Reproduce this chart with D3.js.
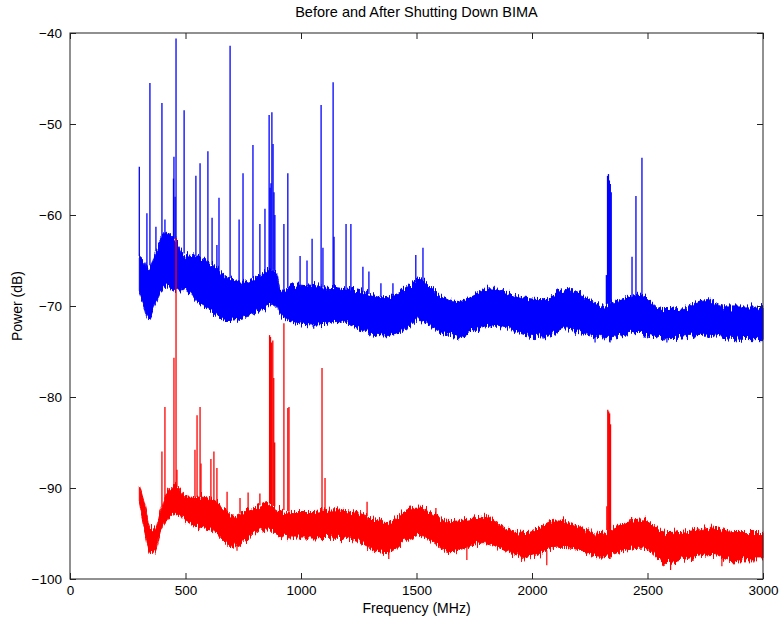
<!DOCTYPE html>
<html>
<head>
<meta charset="utf-8">
<script src="https://cdn.jsdelivr.net/npm/d3@7"></script>
<style>
  body { margin: 0; background: #fff; }
  text { font-family: "Liberation Sans", Arial, Helvetica, sans-serif; fill: #000; }
</style>
</head>
<body>
<script>
const width = 782;
const height = 621;
const margin = {top: 33, right: 19, bottom: 42, left: 70};

// "before" (blue) noise band: frequency (MHz), lower and upper edge (dB)
const blueFreq = [300, 320, 338, 375, 420, 455, 490, 550, 605, 680, 750, 822, 880, 895, 910, 982, 1070, 1155, 1270, 1355, 1430, 1515, 1600, 1675, 1745, 1820, 1890, 1960, 2050, 2150, 2238, 2310, 2380, 2468, 2567, 2653, 2757, 2844, 2957, 3000];
const blueLow  = [-68.4, -70.0, -71.5, -69.4, -67.8, -68.3, -68.2, -69.5, -70.4, -71.6, -71.3, -70.6, -69.8, -70.2, -71.1, -71.9, -72.1, -71.7, -72.7, -73.3, -72.8, -71.6, -72.9, -73.3, -72.8, -72.2, -72.4, -73.2, -73.4, -72.4, -73.2, -73.5, -73.2, -72.9, -73.5, -73.4, -73.2, -73.5, -73.7, -73.7];
const blueHigh = [-64.5, -65.0, -66.0, -63.8, -62.0, -62.7, -64.2, -64.6, -65.3, -66.8, -67.4, -66.6, -66.0, -66.5, -68.3, -67.7, -67.9, -68.0, -68.5, -69.1, -68.5, -67.1, -68.8, -69.6, -68.8, -68.0, -68.5, -69.1, -69.3, -68.2, -69.1, -69.9, -69.3, -68.8, -70.4, -70.2, -69.3, -70.1, -70.1, -70.2];

// "after" (red) noise band
const redFreq = [300, 325, 346, 368, 390, 420, 455, 506, 563, 620, 662, 706, 766, 822, 857, 896, 966, 1052, 1139, 1225, 1312, 1372, 1459, 1515, 1645, 1788, 1905, 1978, 2108, 2208, 2294, 2411, 2481, 2584, 2697, 2784, 2871, 3000];
const redLow  = [-91.6, -95.0, -97.1, -97.0, -94.9, -93.5, -92.7, -93.7, -94.3, -94.6, -95.7, -96.5, -95.7, -94.6, -94.4, -95.2, -95.5, -95.5, -95.4, -95.7, -96.8, -97.1, -95.7, -95.2, -97.0, -96.0, -97.1, -97.6, -96.5, -96.8, -97.6, -96.8, -96.6, -98.2, -97.6, -97.3, -97.9, -97.9];
const redHigh = [-89.7, -92.0, -94.3, -94.5, -92.7, -90.5, -89.7, -91.0, -91.0, -91.3, -92.1, -93.2, -92.4, -91.9, -91.6, -92.2, -92.7, -92.7, -92.4, -92.6, -93.3, -93.8, -92.4, -92.2, -93.7, -93.2, -94.6, -94.9, -93.5, -94.3, -94.9, -93.8, -93.5, -94.9, -94.6, -94.3, -94.9, -94.9];

// narrow lines: [frequency, peak dB]
const blueSpikes = [[300, -54.7], [333, -59.8], [346, -45.5], [372, -61.3], [398, -47.7], [411, -60.5], [448, -56.0], [450, -53.6], [455, -58.0], [459, -40.6], [494, -48.5], [545, -55.7], [563, -54.3], [597, -53.0], [615, -60.3], [636, -63.3], [645, -58.1], [693, -41.4], [732, -60.5], [749, -55.4], [792, -52.3], [822, -61.0], [844, -59.3], [862, -49.0], [866, -57.0], [870, -56.5], [874, -48.7], [879, -52.2], [883, -57.5], [887, -60.0], [926, -61.0], [943, -55.4], [996, -64.5], [1026, -65.0], [1048, -62.6], [1087, -47.9], [1095, -63.6], [1139, -45.4], [1143, -62.4], [1195, -61.0], [1216, -61.0], [1268, -65.7], [1294, -66.2], [1346, -67.5], [1398, -67.5], [1497, -64.4], [1528, -63.6], [2322, -66.6], [2327, -55.7], [2331, -55.5], [2335, -56.2], [2339, -56.6], [2343, -57.5], [2433, -64.6], [2450, -57.9], [2476, -53.7]];
const redSpikes = [[398, -86.0], [411, -81.1], [450, -75.7], [459, -62.5], [463, -88.0], [541, -85.8], [550, -82.0], [563, -81.1], [567, -87.3], [610, -86.8], [623, -86.0], [636, -87.8], [680, -90.4], [736, -91.1], [771, -90.5], [822, -90.6], [864, -73.2], [868, -73.4], [873, -74.0], [878, -73.8], [882, -77.9], [886, -85.0], [926, -71.9], [943, -81.2], [948, -81.1], [1091, -76.8], [1104, -88.9], [1286, -91.5], [1584, -92.2], [2324, -92.0], [2328, -81.4], [2332, -81.6], [2336, -81.8], [2340, -83.0]];

// downward excursions: [frequency, lowest dB]
const blueDips = [[1055, -72.5], [1299, -73.0], [1632, -73.3], [2048, -73.6], [2273, -74.0], [2338, -74.0], [2584, -74.0], [2957, -73.8]];
const redDips = [[723, -96.9], [1380, -97.8], [1718, -97.9], [2064, -98.5], [2338, -97.8], [2600, -99.0], [2822, -98.6], [2960, -98.2]];

const xTicks = [0, 500, 1000, 1500, 2000, 2500, 3000];
const yTicks = [-100, -90, -80, -70, -60, -50, -40];

const svg = d3.select("body")
    .append("svg")
    .attr("width", width)
    .attr("height", height);

// rough, spectrum-like edges for the noise bands (purely a drawing texture)
const defs = svg.append("defs");
const rough = defs.append("filter")
    .attr("id", "rough")
    .attr("x", "-2%").attr("y", "-40%")
    .attr("width", "104%").attr("height", "180%");
rough.append("feTurbulence")
    .attr("type", "fractalNoise")
    .attr("baseFrequency", "0.7 0.04")
    .attr("numOctaves", 2)
    .attr("seed", 3)
    .attr("result", "noise");
rough.append("feColorMatrix")
    .attr("in", "noise")
    .attr("type", "matrix")
    .attr("values", "0 0 0 0 0.5  0 1 0 0 0  0 0 0 0 0  0 0 0 0 1")
    .attr("result", "vnoise");
rough.append("feDisplacementMap")
    .attr("in", "SourceGraphic")
    .attr("in2", "vnoise")
    .attr("scale", 14)
    .attr("xChannelSelector", "R")
    .attr("yChannelSelector", "G");

const x = d3.scaleLinear()
    .domain([0, 3000])
    .range([margin.left, width - margin.right]);

const y = d3.scaleLinear()
    .domain([-100, -40])
    .range([height - margin.bottom, margin.top]);

function band(freq, low, high) {
    return freq.map((f, i) => ({f: f, lo: low[i], hi: high[i]}));
}

// band edge at any frequency, used as base of the spike lines
function edgeAt(freq, vals, f) {
    const i = Math.min(Math.max(d3.bisectLeft(freq, f), 1), freq.length - 1);
    const t = (f - freq[i - 1]) / (freq[i] - freq[i - 1]);
    return vals[i - 1] + t * (vals[i] - vals[i - 1]);
}

const area = d3.area()
    .curve(d3.curveMonotoneX)
    .x(d => x(d.f))
    .y0(d => y(d.lo))
    .y1(d => y(d.hi));

function drawSeries(color, freq, low, high, spikes, dips) {
    const g = svg.append("g");
    g.append("path")
        .datum(band(freq, low, high))
        .attr("d", area)
        .attr("fill", color)
        .attr("stroke", color)
        .attr("stroke-width", 1)
        .attr("filter", "url(#rough)");

    g.selectAll(".spike")
        .data(spikes)
        .enter()
        .append("line")
        .attr("x1", d => x(d[0]))
        .attr("x2", d => x(d[0]))
        .attr("y1", d => y(edgeAt(freq, high, d[0])))
        .attr("y2", d => y(d[1]))
        .attr("stroke", color)
        .attr("stroke-width", 1.3);

    g.selectAll(".dip")
        .data(dips)
        .enter()
        .append("line")
        .attr("x1", d => x(d[0]))
        .attr("x2", d => x(d[0]))
        .attr("y1", d => y(edgeAt(freq, low, d[0])))
        .attr("y2", d => y(d[1]))
        .attr("stroke", color)
        .attr("stroke-width", 1.2);
}

drawSeries("#0000ff", blueFreq, blueLow, blueHigh, blueSpikes, blueDips);
drawSeries("#ff0000", redFreq, redLow, redHigh, redSpikes, redDips);

// axes, MATLAB style: ticks pointing inwards on all four sides
const tickLen = 6;
const axisColor = "#222";

svg.append("g")
    .attr("transform", "translate(0," + y(-100) + ")")
    .call(d3.axisBottom(x).tickValues(xTicks).tickSize(-tickLen).tickPadding(6).tickFormat(d3.format("d")))
    .call(g => g.select(".domain").remove());

svg.append("g")
    .attr("transform", "translate(0," + y(-40) + ")")
    .call(d3.axisTop(x).tickValues(xTicks).tickSize(-tickLen).tickFormat(""))
    .call(g => g.select(".domain").remove());

svg.append("g")
    .attr("transform", "translate(" + x(0) + ",0)")
    .call(d3.axisLeft(y).tickValues(yTicks).tickSize(-tickLen).tickPadding(8).tickFormat(d3.format("d")))
    .call(g => g.select(".domain").remove());

svg.append("g")
    .attr("transform", "translate(" + x(3000) + ",0)")
    .call(d3.axisRight(y).tickValues(yTicks).tickSize(-tickLen).tickFormat(""))
    .call(g => g.select(".domain").remove());

svg.selectAll(".tick line").attr("stroke", axisColor);
svg.selectAll(".tick text").attr("font-size", "13.5px").attr("fill", "#000");

svg.append("rect")
    .attr("x", x(0))
    .attr("y", y(-40))
    .attr("width", x(3000) - x(0))
    .attr("height", y(-100) - y(-40))
    .attr("fill", "none")
    .attr("stroke", axisColor)
    .attr("stroke-width", 1);

svg.append("text")
    .attr("x", (x(0) + x(3000)) / 2)
    .attr("y", 17)
    .attr("text-anchor", "middle")
    .attr("font-size", "14.5px")
    .text("Before and After Shutting Down BIMA");

svg.append("text")
    .attr("x", (x(0) + x(3000)) / 2)
    .attr("y", 613)
    .attr("text-anchor", "middle")
    .attr("font-size", "14px")
    .text("Frequency (MHz)");

svg.append("text")
    .attr("transform", "translate(22," + ((y(-40) + y(-100)) / 2) + ") rotate(-90)")
    .attr("text-anchor", "middle")
    .attr("font-size", "14px")
    .text("Power (dB)");
</script>
</body>
</html>
